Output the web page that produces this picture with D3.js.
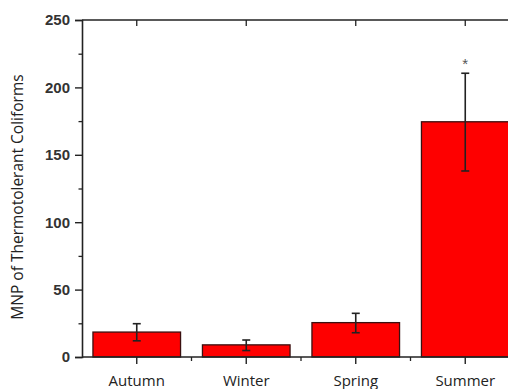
<!DOCTYPE html>
<html>
<head>
<meta charset="utf-8">
<script src="https://cdn.jsdelivr.net/npm/d3@7"></script>
<style>
  html, body { margin: 0; padding: 0; background: #fff; }
  svg { display: block; }
</style>
</head>
<body>
<svg id="chart" width="508" height="389"></svg>
<script>
// Seasonal thermotolerant coliform counts (MNP) with error ranges
const seasons = ["Autumn", "Winter", "Spring", "Summer"];
const meanValues = [18.5, 9, 25.5, 174.5];
const errorLow = [12, 4.8, 18, 138];
const errorHigh = [24.7, 12.6, 32.4, 210.5];
const significance = ["", "", "", "*"];
const yTicks = [0, 50, 100, 150, 200, 250];
const yMinorTicks = [25, 75, 125, 175, 225];

const svg = d3.select("#chart");
const plotLeft = 82, plotTop = 20, plotBottom = 357, plotRightEnd = 520;

const x = d3.scaleBand()
  .domain(seasons)
  .range([plotLeft, plotRightEnd])
  .paddingInner(0.2)
  .paddingOuter(0.1);

const y = d3.scaleLinear().domain([0, 250]).range([plotBottom, plotTop]);

const step = x.step();
const centers = seasons.map(s => x(s) + x.bandwidth() / 2);

// Bars
svg.append("g").selectAll("rect")
  .data(seasons)
  .join("rect")
  .attr("x", d => x(d))
  .attr("y", (d, i) => y(meanValues[i]))
  .attr("width", x.bandwidth())
  .attr("height", (d, i) => y(0) - y(meanValues[i]))
  .attr("fill", "#fe0000")
  .attr("stroke", "#3a1010")
  .attr("stroke-width", 1.3);

// Error bars
const eb = svg.append("g").attr("stroke", "#222").attr("stroke-width", 1.6).attr("fill", "none");
seasons.forEach((s, i) => {
  const cx = centers[i];
  eb.append("line").attr("x1", cx).attr("x2", cx).attr("y1", y(errorLow[i])).attr("y2", y(errorHigh[i]));
  eb.append("line").attr("x1", cx - 4).attr("x2", cx + 4).attr("y1", y(errorHigh[i])).attr("y2", y(errorHigh[i]));
  eb.append("line").attr("x1", cx - 4).attr("x2", cx + 4).attr("y1", y(errorLow[i])).attr("y2", y(errorLow[i]));
});

// Significance marks
svg.append("g").selectAll("text")
  .data(seasons)
  .join("text")
  .attr("x", (d, i) => centers[i])
  .attr("y", (d, i) => y(errorHigh[i]) - 4)
  .attr("text-anchor", "middle")
  .attr("font-family", "Liberation Sans, Arial, sans-serif")
  .attr("font-size", 15)
  .attr("fill", "#555")
  .text((d, i) => significance[i]);

// Frame lines: bottom and top axes
const axisColor = "#222";
svg.append("line").attr("x1", plotLeft).attr("x2", 508).attr("y1", plotBottom).attr("y2", plotBottom)
  .attr("stroke", axisColor).attr("stroke-width", 1.6);
svg.append("line").attr("x1", plotLeft).attr("x2", 508).attr("y1", plotTop).attr("y2", plotTop)
  .attr("stroke", axisColor).attr("stroke-width", 1.6);

// Left axis with outward ticks
const yAxis = d3.axisLeft(y).tickValues(yTicks).tickSize(7).tickPadding(5).tickFormat(d3.format("d"));
const gy = svg.append("g").attr("transform", `translate(${plotLeft},0)`).call(yAxis);
gy.select(".domain").attr("stroke", axisColor).attr("stroke-width", 1.6);
gy.selectAll(".tick line").attr("stroke", axisColor).attr("stroke-width", 1.4);
gy.selectAll(".tick text")
  .attr("font-family", "Liberation Sans, Arial, sans-serif")
  .attr("font-size", 15)
  .attr("font-weight", "bold")
  .attr("fill", "#333");
const gyMinor = svg.append("g").attr("transform", `translate(${plotLeft},0)`)
  .call(d3.axisLeft(y).tickValues(yMinorTicks).tickSize(3.5).tickFormat(""));
gyMinor.select(".domain").remove();
gyMinor.selectAll(".tick line").attr("stroke", axisColor).attr("stroke-width", 1.3);

// Bottom axis: major ticks at categories, minor ticks between them
const gx = svg.append("g").attr("transform", `translate(0,${plotBottom})`)
  .call(d3.axisBottom(x).tickSize(7).tickPadding(11));
gx.select(".domain").remove();
gx.selectAll(".tick line").attr("stroke", axisColor).attr("stroke-width", 1.4);
gx.selectAll(".tick text")
  .attr("font-family", "Open Sans, sans-serif")
  .attr("font-size", 15)
  .attr("fill", "#222");

const between = seasons.slice(1).map(s => x(s) - step * x.paddingInner() / 2);
svg.append("g").selectAll("line")
  .data(between)
  .join("line")
  .attr("x1", d => d).attr("x2", d => d)
  .attr("y1", plotBottom).attr("y2", plotBottom + 4)
  .attr("stroke", axisColor).attr("stroke-width", 1.3);

// Top axis: inward ticks at categories
svg.append("g").selectAll("line")
  .data(centers)
  .join("line")
  .attr("x1", d => d).attr("x2", d => d)
  .attr("y1", plotTop).attr("y2", plotTop + 6)
  .attr("stroke", axisColor).attr("stroke-width", 1.3);

// Y axis title
svg.append("text")
  .attr("transform", `translate(23,197) rotate(-90)`)
  .attr("text-anchor", "middle")
  .attr("font-family", "Open Sans, sans-serif")
  .attr("font-size", 15.5)
  .attr("fill", "#222")
  .text("MNP of Thermotolerant Coliforms");
</script>
</body>
</html>
